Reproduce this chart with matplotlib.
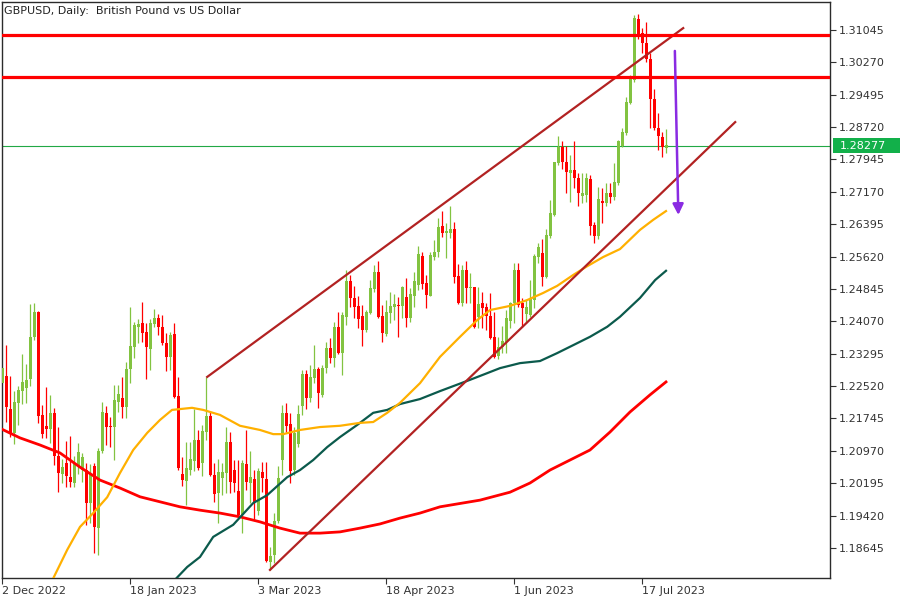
import numpy as np
import matplotlib.pyplot as plt
from matplotlib.patches import Rectangle
from matplotlib.transforms import blended_transform_factory

# GBPUSD daily candles, 2 Dec 2022 .. late Jul 2023
opens = [
    1.2259, 1.2276, 1.2197, 1.2140, 1.2212, 1.2240, 1.2247, 1.2269, 1.2370, 1.2429,
    1.2183, 1.2157, 1.2149, 1.2188, 1.2085, 1.2042, 1.2068, 1.2034, 1.2020, 1.2061,
    1.2051, 1.2051, 1.1972, 1.2061, 1.1912, 1.2097, 1.2188, 1.2157, 1.2154, 1.2214,
    1.2224, 1.2202, 1.2293, 1.2346, 1.2393, 1.2403, 1.2381, 1.2341, 1.2401, 1.2415,
    1.2394, 1.2355, 1.2322, 1.2377, 1.2228, 1.2042, 1.2025, 1.2051, 1.2073, 1.2123,
    1.2068, 1.2142, 1.2180, 1.2039, 1.1996, 1.2032, 1.2044, 1.2118, 1.2051, 1.2001,
    1.1943, 1.2066, 1.2020, 1.2030, 1.1953, 1.2046, 1.2030, 1.1831, 1.1848, 1.1929,
    1.2075, 1.2188, 1.2161, 1.2051, 1.2113, 1.2204, 1.2281, 1.2224, 1.2271, 1.2293,
    1.2231, 1.2295, 1.2343, 1.2319, 1.2394, 1.2331, 1.2417, 1.2504, 1.2463, 1.2444,
    1.2420, 1.2386, 1.2427, 1.2484, 1.2525, 1.2420, 1.2377, 1.2427, 1.2441, 1.2446,
    1.2444, 1.2465, 1.2415, 1.2468, 1.2494, 1.2563, 1.2499, 1.2468, 1.2561, 1.2573,
    1.2635, 1.2618, 1.2618, 1.2628, 1.2516, 1.2451, 1.2530, 1.2487, 1.2489, 1.2417,
    1.2451, 1.2441, 1.2420, 1.2370, 1.2324, 1.2346, 1.2358, 1.2408, 1.2451, 1.2530,
    1.2451, 1.2425, 1.2422, 1.2458, 1.2561, 1.2571, 1.2513, 1.2611, 1.2662, 1.2786,
    1.2824, 1.2788, 1.2762, 1.2769, 1.2750, 1.2707, 1.2710, 1.2748, 1.2638, 1.2611,
    1.2695, 1.2690, 1.2714, 1.2705, 1.2738, 1.2827, 1.2858, 1.2930, 1.2985, 1.3131,
    1.3097, 1.3073, 1.3035, 1.2939, 1.2870, 1.2848, 1.2822,
]
highs = [
    1.2295, 1.2350, 1.2276, 1.2240, 1.2252, 1.2329, 1.2305, 1.2449, 1.2451, 1.2432,
    1.2207, 1.2250, 1.2231, 1.2200, 1.2154, 1.2078, 1.2121, 1.2133, 1.2085, 1.2116,
    1.2092, 1.2068, 1.2066, 1.2068, 1.2104, 1.2214, 1.2204, 1.2178, 1.2255, 1.2255,
    1.2274, 1.2310, 1.2441, 1.2405, 1.2413, 1.2453, 1.2403, 1.2413, 1.2437, 1.2425,
    1.2422, 1.2379, 1.2382, 1.2403, 1.2274, 1.2082, 1.2118, 1.2118, 1.2197, 1.2147,
    1.2159, 1.2274, 1.2192, 1.2068, 1.2078, 1.2068, 1.2154, 1.2142, 1.2075, 1.2075,
    1.2075, 1.2147, 1.2097, 1.2051, 1.2056, 1.2070, 1.2070, 1.1867, 1.1948, 1.2061,
    1.2207, 1.2212, 1.2188, 1.2154, 1.2207, 1.2291, 1.2291, 1.2303, 1.2350, 1.2298,
    1.2303, 1.2358, 1.2367, 1.2405, 1.2429, 1.2429, 1.2530, 1.2518, 1.2492, 1.2468,
    1.2446, 1.2434, 1.2506, 1.2542, 1.2552, 1.2446, 1.2458, 1.2477, 1.2473, 1.2465,
    1.2492, 1.2511, 1.2487, 1.2525, 1.2587, 1.2573, 1.2518, 1.2573, 1.2602, 1.2654,
    1.2671, 1.2642, 1.2683, 1.2645, 1.2544, 1.2542, 1.2552, 1.2523, 1.2489, 1.2489,
    1.2477, 1.2451, 1.2475, 1.2429, 1.2370, 1.2396, 1.2434, 1.2453, 1.2547, 1.2547,
    1.2463, 1.2458, 1.2506, 1.2568, 1.2595, 1.2604, 1.2628, 1.2698, 1.2788, 1.2851,
    1.2839, 1.2827, 1.2805, 1.2839, 1.2762, 1.2762, 1.2762, 1.2757, 1.2645, 1.2729,
    1.2726, 1.2738, 1.2738, 1.2786, 1.2841, 1.2870, 1.2944, 1.2997, 1.3140, 1.3143,
    1.3109, 1.3124, 1.3049, 1.2963, 1.2906, 1.2860, 1.2867,
]
lows = [
    1.2259, 1.2166, 1.2130, 1.2113, 1.2159, 1.2209, 1.2212, 1.2252, 1.2362, 1.2164,
    1.2128, 1.2128, 1.2116, 1.2063, 1.1998, 1.2020, 1.2010, 1.2010, 1.2010, 1.2042,
    1.2022, 1.1919, 1.1924, 1.1852, 1.1848, 1.2092, 1.2111, 1.2106, 1.2075, 1.2190,
    1.2176, 1.2176, 1.2259, 1.2319, 1.2355, 1.2358, 1.2269, 1.2291, 1.2394, 1.2374,
    1.2350, 1.2288, 1.2291, 1.2224, 1.2051, 1.2013, 1.1967, 1.2039, 1.2049, 1.2051,
    1.2037, 1.2123, 1.2037, 1.1975, 1.1924, 1.1991, 1.1996, 1.1996, 1.1998, 1.1936,
    1.1900, 1.2003, 1.1972, 1.1931, 1.1943, 1.1998, 1.1831, 1.1812, 1.1829, 1.1924,
    1.2039, 1.2142, 1.2020, 1.2039, 1.2106, 1.2183, 1.2197, 1.2214, 1.2259, 1.2200,
    1.2226, 1.2283, 1.2307, 1.2298, 1.2329, 1.2278, 1.2398, 1.2441, 1.2415, 1.2391,
    1.2348, 1.2382, 1.2425, 1.2477, 1.2415, 1.2358, 1.2372, 1.2403, 1.2410, 1.2370,
    1.2415, 1.2394, 1.2405, 1.2441, 1.2482, 1.2484, 1.2439, 1.2468, 1.2554, 1.2561,
    1.2609, 1.2559, 1.2606, 1.2499, 1.2449, 1.2444, 1.2451, 1.2451, 1.2391, 1.2391,
    1.2391, 1.2386, 1.2365, 1.2319, 1.2317, 1.2331, 1.2331, 1.2391, 1.2403, 1.2441,
    1.2394, 1.2403, 1.2417, 1.2439, 1.2547, 1.2492, 1.2511, 1.2607, 1.2659, 1.2781,
    1.2772, 1.2714, 1.2693, 1.2726, 1.2683, 1.2690, 1.2693, 1.2614, 1.2595, 1.2604,
    1.2642, 1.2683, 1.2690, 1.2698, 1.2733, 1.2824, 1.2853, 1.2927, 1.2980, 1.3083,
    1.3049, 1.3028, 1.2870, 1.2865, 1.2817, 1.2800, 1.2810,
]
closes = [
    1.2295, 1.2202, 1.2140, 1.2214, 1.2243, 1.2262, 1.2267, 1.2370, 1.2429, 1.2180,
    1.2137, 1.2149, 1.2188, 1.2085, 1.2044, 1.2058, 1.2037, 1.2022, 1.2068, 1.2094,
    1.2082, 1.1972, 1.2042, 1.1915, 1.2097, 1.2190, 1.2154, 1.2154, 1.2219, 1.2233,
    1.2202, 1.2293, 1.2348, 1.2398, 1.2401, 1.2379, 1.2346, 1.2403, 1.2415, 1.2394,
    1.2355, 1.2322, 1.2374, 1.2226, 1.2056, 1.2027, 1.2056, 1.2078, 1.2123, 1.2056,
    1.2145, 1.2180, 1.2039, 1.1994, 1.2046, 1.2046, 1.2118, 1.2022, 1.2020, 1.1943,
    1.2068, 1.2022, 1.2034, 1.1975, 1.2049, 1.2032, 1.1833, 1.1845, 1.1929, 1.2032,
    1.2188, 1.2157, 1.2049, 1.2140, 1.2185, 1.2281, 1.2224, 1.2274, 1.2293, 1.2236,
    1.2295, 1.2343, 1.2319, 1.2394, 1.2331, 1.2422, 1.2504, 1.2463, 1.2441, 1.2413,
    1.2386, 1.2429, 1.2487, 1.2525, 1.2417, 1.2379, 1.2429, 1.2444, 1.2449, 1.2444,
    1.2489, 1.2415, 1.2473, 1.2504, 1.2568, 1.2496, 1.2470, 1.2566, 1.2573, 1.2633,
    1.2618, 1.2623, 1.2628, 1.2513, 1.2451, 1.2530, 1.2487, 1.2489, 1.2394, 1.2449,
    1.2439, 1.2420, 1.2367, 1.2322, 1.2346, 1.2360, 1.2415, 1.2451, 1.2530, 1.2446,
    1.2439, 1.2441, 1.2463, 1.2563, 1.2585, 1.2513, 1.2614, 1.2666, 1.2788, 1.2824,
    1.2788, 1.2765, 1.2769, 1.2750, 1.2714, 1.2714, 1.2750, 1.2635, 1.2611, 1.2700,
    1.2690, 1.2714, 1.2705, 1.2741, 1.2839, 1.2860, 1.2932, 1.2992, 1.3133, 1.3088,
    1.3073, 1.3035, 1.2939, 1.2870, 1.2851, 1.2824, 1.2828,
]

# moving averages, sampled along the lines (bar index, price)
ma_orange_bar = [11.9, 16.2, 19.4, 22.7, 26.2, 29.4, 32.7, 36.2, 39.4, 42.4, 44.4, 47.4, 50.2,
                 54.4, 59.4, 64.4, 67.7, 70.2, 74.4, 79.4, 84.4, 89.4, 92.7, 96.2, 99.4,
                 104.4, 109.4, 114.4, 118.7, 121.9, 126.9, 131.2, 135.2, 138.7, 142.7,
                 146.2, 150.2, 154.4, 159.4, 162.7, 165.9]
ma_orange_val = [1.1776, 1.1860, 1.1915, 1.1948, 1.1986, 1.2044, 1.2099, 1.2140, 1.2171, 1.2195,
                 1.2197, 1.2200, 1.2195, 1.2183, 1.2157, 1.2147, 1.2137, 1.2137, 1.2147, 1.2154,
                 1.2157, 1.2164, 1.2166, 1.2188, 1.2212, 1.2259, 1.2322, 1.2370, 1.2410, 1.2434,
                 1.2444, 1.2458, 1.2475, 1.2492, 1.2518, 1.2539, 1.2561, 1.2580, 1.2626, 1.2650,
                 1.2671]
ma_teal_bar = [41.9, 46.2, 49.4, 52.7, 57.7, 62.7, 66.2, 71.2, 74.4, 77.7, 81.2, 84.4, 88.7,
               92.7, 96.2, 99.4, 104.4, 109.4, 116.9, 121.2, 124.4, 129.4, 134.4, 138.7,
               142.7, 146.9, 151.2, 154.4, 159.4, 163.2, 165.9]
ma_teal_val = [1.1776, 1.1819, 1.1843, 1.1891, 1.1920, 1.1972, 1.1991, 1.2034, 1.2051, 1.2075,
               1.2106, 1.2130, 1.2159, 1.2188, 1.2195, 1.2209, 1.2221, 1.2240, 1.2267, 1.2283,
               1.2295, 1.2307, 1.2312, 1.2331, 1.2350, 1.2370, 1.2394, 1.2418, 1.2463, 1.2506,
               1.2528]
ma_red_bar = [-0.6, 4.4, 9.4, 14.4, 19.4, 24.4, 29.4, 34.4, 39.4, 44.4, 49.4, 54.4, 59.4, 64.4,
              69.4, 74.4, 79.4, 84.4, 89.4, 94.4, 99.4, 104.4, 109.4, 119.4, 126.9, 131.9,
              136.9, 141.9, 146.9, 151.9, 156.9, 161.9, 165.9]
ma_red_val = [1.2151, 1.2128, 1.2111, 1.2092, 1.2058, 1.2027, 1.2008, 1.1987, 1.1975, 1.1963,
              1.1955, 1.1948, 1.1939, 1.1927, 1.1912, 1.1900, 1.1900, 1.1903, 1.1912, 1.1922,
              1.1936, 1.1948, 1.1963, 1.1979, 1.1998, 1.2020, 1.2051, 1.2075, 1.2099, 1.2142,
              1.2190, 1.2231, 1.2262]

# drawn objects
channel_upper = ([51.2, 170.2], [1.2274, 1.3109])
channel_lower = ([66.9, 183.2], [1.1812, 1.2884])
resistance_levels = [1.3092, 1.2992]
arrow_start = (168.1, 1.3061)
arrow_end = (169.0, 1.2655)
last_price = 1.28277

price_ticks = [1.31045 - 0.00775 * k for k in range(17)]
date_pos = [0, 32, 64, 96, 128, 160]
date_labels = ['2 Dec 2022', '18 Jan 2023', '3 Mar 2023', '18 Apr 2023', '1 Jun 2023', '17 Jul 2023']

BULL = '#82C341'
BEAR = '#FF0000'
TXT = '#333333'

fig = plt.figure(figsize=(9, 6), dpi=100)
ax = fig.add_axes([2 / 900, 22 / 600, 828 / 900, 576 / 600])
ax.set_facecolor('white')

idx = np.arange(len(opens))
o = np.array(opens)
h = np.array(highs)
l = np.array(lows)
c = np.array(closes)
cols = np.where(c >= o, BULL, BEAR)

# candles
ax.vlines(idx, l, h, colors=cols, lw=0.9, zorder=2)
body_lo = np.minimum(o, c)
body_h = np.maximum(np.abs(c - o), 0.00025)
ax.bar(idx, body_h, bottom=body_lo, width=0.8, color=cols, linewidth=0, zorder=3)

# moving averages
ax.plot(ma_red_bar, ma_red_val, color='#FF0000', lw=2.0, zorder=4)
ax.plot(ma_teal_bar, ma_teal_val, color='#0B5A4C', lw=1.6, zorder=4)
ax.plot(ma_orange_bar, ma_orange_val, color='#FFB000', lw=1.6, zorder=4)

# channel + levels
ax.plot(*channel_upper, color='#B22222', lw=1.6, zorder=5)
ax.plot(*channel_lower, color='#B22222', lw=1.6, zorder=5)
for lvl in resistance_levels:
    ax.axhline(lvl, color='#FF0000', lw=2.3, zorder=5)
ax.axhline(last_price, color='#22A845', lw=0.8, zorder=1)

ax.annotate('', xy=arrow_end, xytext=arrow_start,
            arrowprops=dict(arrowstyle='-|>', color='#8A2BE2', lw=1.8, mutation_scale=16),
            zorder=6)

ax.set_xlim(-0.1, 206.9)
ax.set_ylim(1.17926, 1.31715)

# right price scale
ax.yaxis.tick_right()
ax.set_yticks(price_ticks)
ax.set_yticklabels(['%.5f' % t for t in price_ticks])
ax.tick_params(axis='y', direction='out', length=4, pad=2, labelsize=8, colors=TXT)

# date scale
ax.set_xticks(date_pos)
ax.set_xticklabels(date_labels)
for lab in ax.get_xticklabels():
    lab.set_ha('left')
ax.tick_params(axis='x', direction='out', length=4, pad=2, labelsize=8, colors=TXT)

for sp in ax.spines.values():
    sp.set_color('#2B2B2B')
    sp.set_linewidth(1.0)

# last price tag
tr = blended_transform_factory(ax.transAxes, ax.transData)
ax.add_patch(Rectangle((1.004, last_price - 0.0018), 0.082, 0.0036, transform=tr,
                       facecolor='#12B04A', edgecolor='none', clip_on=False, zorder=10))
ax.text(1.012, last_price, '%.5f' % last_price, transform=tr, ha='left', va='center',
        color='white', fontsize=8, zorder=11, clip_on=False)

fig.text(4 / 900, 1 - 11 / 600, 'GBPUSD, Daily:  British Pound vs US Dollar',
         fontsize=8, va='center', ha='left', color='#222222')

fig.savefig('out.png', dpi=100)
